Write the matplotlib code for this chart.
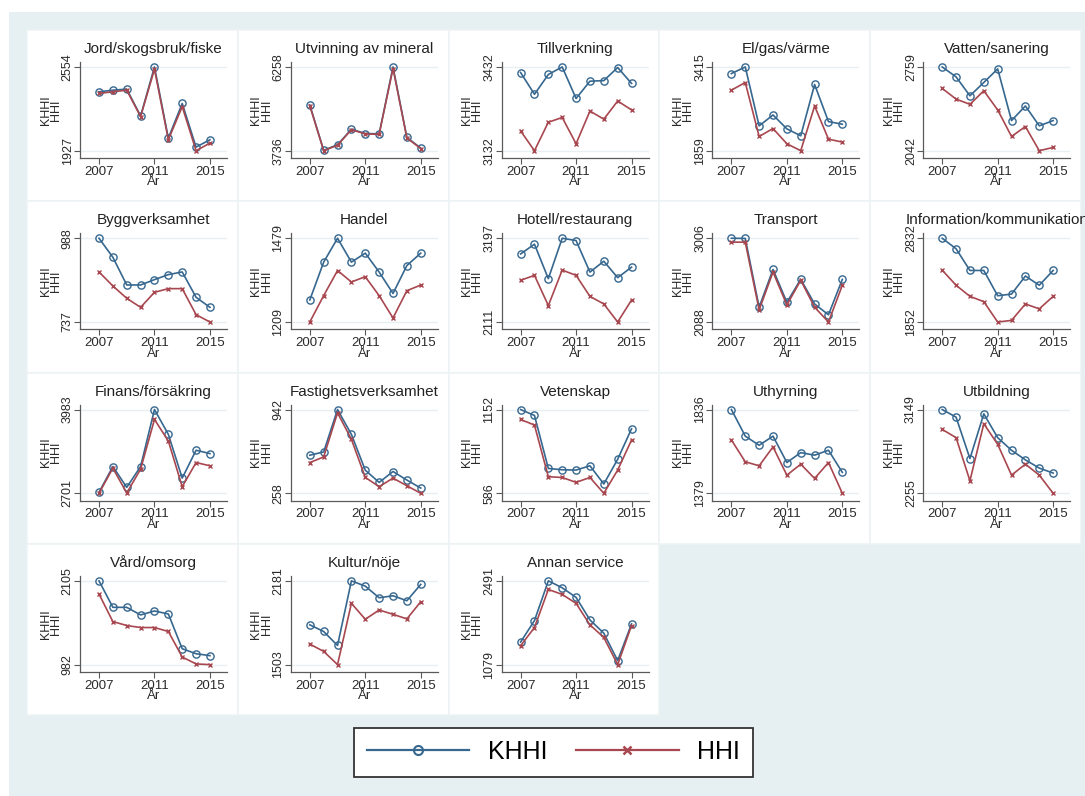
import matplotlib.pyplot as plt
from matplotlib.lines import Line2D
from matplotlib.patches import Rectangle

years = list(range(2007, 2016))

sectors = [
    "Jord/skogsbruk/fiske", "Utvinning av mineral", "Tillverkning", "El/gas/värme", "Vatten/sanering",
    "Byggverksamhet", "Handel", "Hotell/restaurang", "Transport", "Information/kommunikation",
    "Finans/försäkring", "Fastighetsverksamhet", "Vetenskap", "Uthyrning", "Utbildning",
    "Vård/omsorg", "Kultur/nöje", "Annan service",
]

khhi = [
    [2368, 2380, 2388, 2187, 2554, 2021, 2281, 1954, 2009],
    [5112, 3750, 3915, 4384, 4254, 4244, 6258, 4135, 3816],
    [3412, 3334, 3405, 3432, 3319, 3381, 3383, 3430, 3373],
    [3292, 3415, 2320, 2523, 2265, 2136, 3089, 2400, 2351],
    [2759, 2674, 2512, 2626, 2742, 2300, 2425, 2255, 2300],
    [988, 931, 848, 848, 864, 879, 887, 811, 781],
    [1280, 1402, 1479, 1402, 1431, 1370, 1301, 1391, 1431],
    [2993, 3120, 2673, 3197, 3167, 2758, 2899, 2686, 2822],
    [3006, 3004, 2250, 2664, 2304, 2556, 2286, 2167, 2556],
    [2832, 2709, 2455, 2455, 2159, 2179, 2390, 2282, 2455],
    [2716, 3111, 2792, 3111, 3983, 3603, 2934, 3360, 3309],
    [569, 596, 942, 739, 447, 347, 436, 366, 301],
    [1152, 1112, 754, 745, 743, 772, 649, 816, 1022],
    [1836, 1691, 1641, 1691, 1547, 1601, 1587, 1614, 1493],
    [3149, 3068, 2626, 3103, 2849, 2714, 2612, 2524, 2471],
    [2105, 1750, 1750, 1648, 1701, 1661, 1195, 1128, 1102],
    [1825, 1771, 1658, 2181, 2138, 2044, 2060, 2020, 2152],
    [1459, 1821, 2491, 2374, 2212, 1832, 1609, 1146, 1765],
]

hhi = [
    [2356, 2368, 2380, 2182, 2537, 2009, 2257, 1927, 1984],
    [5090, 3736, 3900, 4370, 4240, 4230, 6210, 4120, 3800],
    [3203, 3132, 3234, 3251, 3157, 3274, 3245, 3310, 3278],
    [2984, 3126, 2123, 2271, 1988, 1859, 2689, 2074, 2019],
    [2575, 2484, 2439, 2555, 2391, 2164, 2249, 2042, 2070],
    [887, 845, 808, 781, 826, 837, 837, 759, 737],
    [1209, 1294, 1375, 1338, 1355, 1294, 1222, 1310, 1328],
    [2652, 2716, 2324, 2784, 2716, 2443, 2345, 2111, 2396],
    [2963, 2963, 2221, 2635, 2275, 2545, 2250, 2088, 2491],
    [2459, 2282, 2152, 2090, 1852, 1871, 2063, 2006, 2152],
    [2701, 3086, 2706, 3071, 3831, 3502, 2802, 3172, 3122],
    [509, 555, 915, 699, 388, 312, 382, 320, 258],
    [1085, 1047, 698, 693, 660, 693, 586, 743, 946],
    [1670, 1551, 1529, 1632, 1478, 1538, 1460, 1547, 1379],
    [2937, 2849, 2389, 2997, 2778, 2449, 2566, 2449, 2255],
    [1928, 1559, 1506, 1479, 1479, 1426, 1084, 991, 982],
    [1669, 1610, 1503, 1999, 1870, 1945, 1910, 1873, 2012],
    [1397, 1704, 2346, 2262, 2111, 1749, 1537, 1079, 1738],
]

W, H = 1085, 796
BG = "#e6eff1"
BLUE = "#36678f"
RED = "#a8474f"
AXC = "#5a5a5a"
TXT = "#2a2a2a"
sans = ["Liberation Sans", "DejaVu Sans"]


def box(x, y, w, h):
    # pixel box (top-left origin) -> figure fraction [left, bottom, width, height]
    return [x / W, 1 - (y + h) / H, w / W, h / H]


fig = plt.figure(figsize=(W / 100, H / 100), dpi=100, facecolor="white")
fig.patches.append(Rectangle((9 / W, 0), 1 - 9 / W, 1 - 12 / H, transform=fig.transFigure,
                             facecolor=BG, edgecolor="none", zorder=-10))

pw, ph = 210.8, 171.3
for i, name in enumerate(sectors):
    r, c = divmod(i, 5)
    px = 27 + c * pw
    py = 30 + r * ph
    l, b, w, h = box(px, py, pw, ph)
    fig.patches.append(Rectangle((l, b), w, h, transform=fig.transFigure,
                                 facecolor="white", edgecolor="#edf3f5", lw=1.2, zorder=-5))

    ax = fig.add_axes(box(px + 53, py + 32, 147, 96))
    ax.set_facecolor("none")
    ax.plot(years, khhi[i], color=BLUE, lw=1.2, marker="o", mfc="none", mec=BLUE,
            ms=5.2, mew=1.0, zorder=3)
    ax.plot(years, hhi[i], color=RED, lw=1.2, marker="x", ms=3.0, mew=1.0, zorder=4)

    lo = min(min(khhi[i]), min(hhi[i]))
    hi = max(max(khhi[i]), max(hhi[i]))
    span = hi - lo
    ax.set_ylim(lo - 0.087 * span, hi + 0.059 * span)
    ax.set_xlim(2005.63, 2016.23)
    ax.set_yticks([lo, hi])
    ax.set_yticklabels([str(lo), str(hi)], rotation=90, va="center",
                       family=sans, fontsize=9, color=TXT)
    ax.set_xticks([2007, 2011, 2015])
    ax.set_xticklabels(["2007", "2011", "2015"], family=sans, fontsize=9.5, color=TXT)
    ax.grid(axis="y", color="#e8eff1", lw=1.0)
    ax.set_axisbelow(True)
    for s in ("top", "right"):
        ax.spines[s].set_visible(False)
    for s in ("left", "bottom"):
        ax.spines[s].set_color(AXC)
        ax.spines[s].set_linewidth(0.9)
    ax.tick_params(length=4, width=0.8, color=AXC)
    ax.tick_params(axis="x", pad=1.5)
    ax.tick_params(axis="y", pad=0.5)
    ax.set_xlabel("År", family=sans, fontsize=9.5, color=TXT, labelpad=-1)
    ax.set_ylabel("KHHI\nHHI", family=sans, fontsize=9, color=TXT,
                  linespacing=0.8, labelpad=0)
    ax.set_title(name, family=sans, fontsize=11, color="#222222", pad=6.5)

handles = [
    Line2D([], [], color=BLUE, lw=1.6, marker="o", mfc="none", mec=BLUE, ms=6.5, mew=1.5),
    Line2D([], [], color=RED, lw=1.6, marker="x", ms=6, mew=1.8),
]
leg = fig.legend(handles, ["KHHI", "HHI"], loc="center", bbox_to_anchor=(553.5 / W, 1 - 752 / H),
                 ncol=2, prop={"family": sans, "size": 18}, frameon=True, fancybox=False,
                 edgecolor="#333333", facecolor="white", framealpha=1.0,
                 handlelength=4.1, handletextpad=0.75, columnspacing=1.15, borderpad=0.5)
leg.get_frame().set_linewidth(1.3)

fig.savefig("out.png", dpi=100, facecolor=fig.get_facecolor())
